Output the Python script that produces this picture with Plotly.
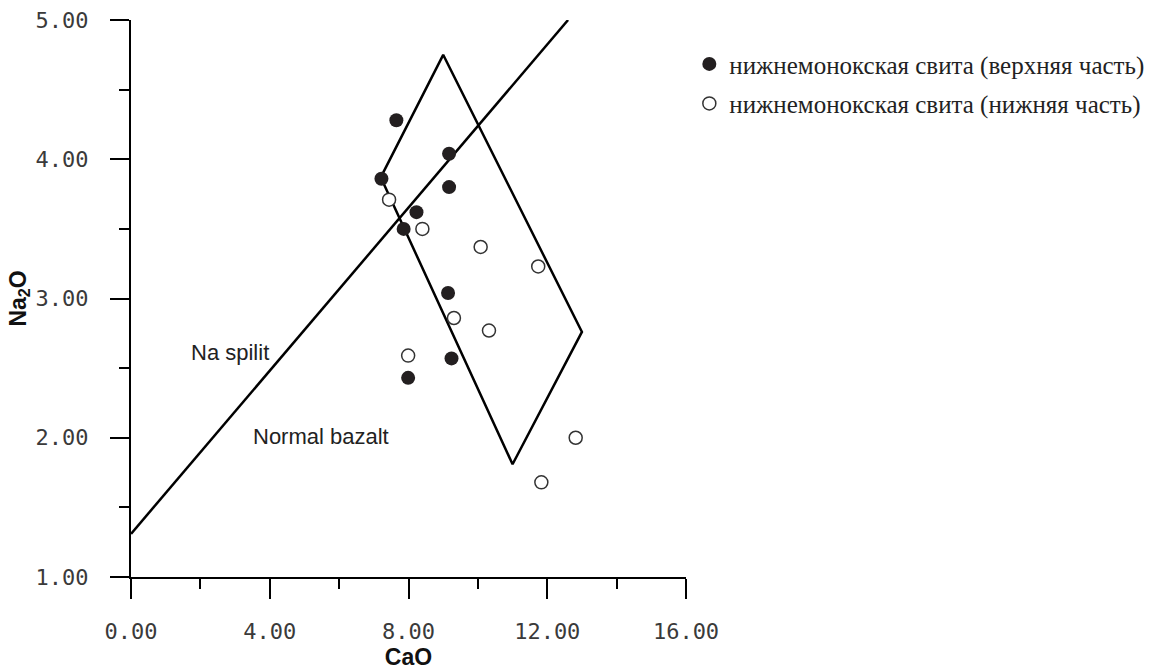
import plotly.graph_objects as go

# Sample groups (CaO, Na2O wt.%)
upper_cao = [7.65, 7.22, 9.17, 9.17, 8.23, 7.86, 9.14, 9.24, 7.99]
upper_na2o = [4.28, 3.86, 4.04, 3.80, 3.62, 3.50, 3.04, 2.57, 2.43]
lower_cao = [7.44, 8.40, 10.08, 11.74, 9.31, 10.32, 7.99, 12.82, 11.83]
lower_na2o = [3.71, 3.50, 3.37, 3.23, 2.86, 2.77, 2.59, 2.00, 1.68]

# Discrimination boundary between Na spilite and normal basalt
split_cao = [0.0, 12.6]
split_na2o = [1.31, 5.00]

# Field outline
field_cao = [7.2, 9.0, 13.0, 11.0, 7.2]
field_na2o = [3.87, 4.75, 2.76, 1.81, 3.87]

upper_name = "нижнемонокская свита (верхняя часть)"
lower_name = "нижнемонокская свита (нижняя часть)"

x_ticks = [0, 4, 8, 12, 16]
y_ticks = [1, 2, 3, 4, 5]

fig = go.Figure()

fig.add_trace(go.Scatter(x=split_cao, y=split_na2o, mode="lines",
                         line=dict(color="black", width=2.5),
                         showlegend=False, hoverinfo="skip"))
fig.add_trace(go.Scatter(x=field_cao, y=field_na2o, mode="lines",
                         line=dict(color="black", width=2.5),
                         showlegend=False, hoverinfo="skip"))

fig.add_trace(go.Scatter(x=upper_cao, y=upper_na2o, mode="markers",
                         name=upper_name, legendgroup="a",
                         marker=dict(size=14, color="#231f20",
                                     line=dict(width=0))))
fig.add_trace(go.Scatter(x=lower_cao, y=lower_na2o, mode="markers",
                         name=lower_name, legendgroup="b",
                         marker=dict(size=13, color="white",
                                     line=dict(width=1.5, color="#333333"))))

fig.add_annotation(x=2.84, y=2.61, text="Na spilit", showarrow=False,
                   font=dict(family="Liberation Sans, Arial", size=22, color="#222222"))
fig.add_annotation(x=5.47, y=2.01, text="Normal bazalt", showarrow=False,
                   font=dict(family="Liberation Sans, Arial", size=22, color="#222222"))

tick_font = dict(family="DejaVu Sans Mono", size=22, color="#3a3a3a")
title_font = dict(family="Liberation Sans, Arial", size=23, color="#111111")

fig.update_xaxes(
    range=[0, 16], tickvals=x_ticks,
    ticktext=[f"{v:.2f}" for v in x_ticks],
    showgrid=False, zeroline=False, automargin=False,
    showline=True, linecolor="black", linewidth=2,
    ticks="outside", ticklen=20, tickwidth=2, tickcolor="black",
    minor=dict(dtick=2, ticks="outside", ticklen=10, tickwidth=2, tickcolor="black"),
    tickfont=tick_font,
    ticklabelstandoff=14,
    title=dict(text="<b>CaO</b>", font=title_font, standoff=4),
)
fig.update_yaxes(
    range=[1, 5], tickvals=y_ticks,
    ticktext=[f"{v:.2f}" for v in y_ticks],
    showgrid=False, zeroline=False, automargin=False,
    showline=True, linecolor="black", linewidth=2,
    ticks="outside", ticklen=19, tickwidth=2, tickcolor="black",
    minor=dict(dtick=0.5, ticks="outside", ticklen=10, tickwidth=2, tickcolor="black"),
    tickfont=tick_font,
    ticklabelstandoff=17,
    title=dict(text="<b>Na<sub>2</sub>O</b>", font=title_font, standoff=3),
)

fig.update_layout(
    width=1161, height=670,
    margin=dict(l=131, r=472, t=20, b=93, pad=0),
    plot_bgcolor="white", paper_bgcolor="white",
    showlegend=True,
    legend=dict(x=1.006, y=0.962, xanchor="left", yanchor="top",
                font=dict(family="Liberation Serif, Times New Roman", size=25, color="#222222"),
                tracegroupgap=4, bgcolor="rgba(0,0,0,0)"),
)

fig.write_html("out.html")
